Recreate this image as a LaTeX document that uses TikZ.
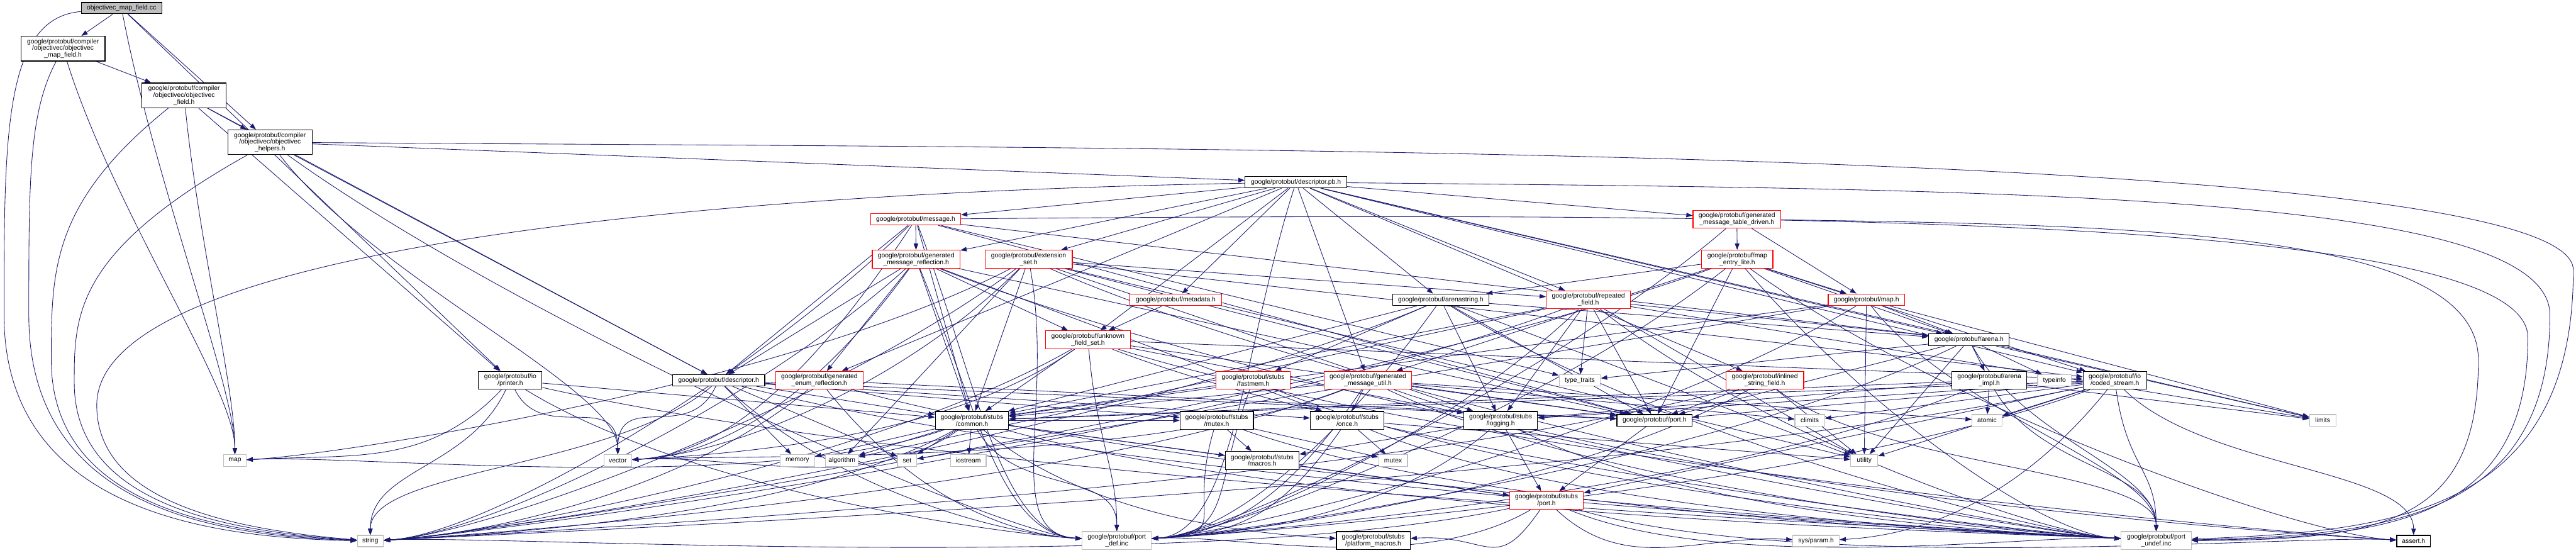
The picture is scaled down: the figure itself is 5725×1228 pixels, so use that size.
\documentclass[tikz,border=0pt]{standalone}
\usepackage{fontspec}
\setmainfont{Liberation Sans}
\usetikzlibrary{arrows.meta,calc}
\pgfdeclarelayer{bg}
\pgfdeclarelayer{back}
\pgfsetlayers{back,bg,main}
\definecolor{edgec}{HTML}{191970}
\definecolor{sysc}{HTML}{BFBFBF}
\definecolor{curc}{HTML}{BFBFBF}
\tikzset{
  box/.style={draw, line width=1.6pt, fill=white, align=center, inner sep=0pt, font=\fontsize{14.5}{15}\selectfont},
  blk/.style={box, draw=black},
  redb/.style={box, draw=red},
  sysb/.style={box, draw=sysc},
  curb/.style={box, draw=black, fill=curc},
  dep/.style={draw=edgec, line width=1.2pt, -{Triangle[length=14pt,width=10pt]}},
  sz/.style 2 args={minimum width=#1pt, minimum height=#2pt},
  ft/.style={to path={.. controls ($(\tikztostart)!0.3!(\tikztotarget)+(0,90)$) and ($(\tikztotarget)+(0,-160)$) .. (\tikztotarget)}},
  fr/.style={to path={.. controls ($(\tikztostart)!0.3!(\tikztotarget)+(0,140)$) and ($(\tikztotarget)+(260,-15)$) .. (\tikztotarget)}},
  fl/.style={to path={.. controls ($(\tikztostart)!0.3!(\tikztotarget)+(0,140)$) and ($(\tikztotarget)+(-260,-15)$) .. (\tikztotarget)}},
}
\begin{document}
\begin{tikzpicture}[x=1pt,y=-1pt]
\begin{pgfonlayer}{back}
\fill[white] (0,0) rectangle (5725,1228);
\end{pgfonlayer}
\useasboundingbox (0,0) rectangle (5725,1228);
% nodes
\node[curb,sz={179}{25}] (cc) at (270,18) {objectivec\_map\_field.cc};
\node[blk,sz={187}{55}] (mfh) at (140,108) {google/protobuf/compiler\\/objectivec/objectivec\\\_map\_field.h};
\node[blk,sz={188}{55}] (fh) at (409,212) {google/protobuf/compiler\\/objectivec/objectivec\\\_field.h};
\node[blk,sz={187}{55}] (hh) at (600,316) {google/protobuf/compiler\\/objectivec/objectivec\\\_helpers.h};
\node[blk,sz={226}{25}] (dpb) at (2880,405) {google/protobuf/descriptor.pb.h};
\node[redb,sz={200}{26}] (msg) at (2035,487) {google/protobuf/message.h};
\node[redb,sz={195}{40}] (gmr) at (2036,576) {google/protobuf/generated\\\_message\_reflection.h};
\node[redb,sz={194}{40}] (ext) at (2286,576) {google/protobuf/extension\\\_set.h};
\node[redb,sz={195}{40}] (gmtd) at (3860,487) {google/protobuf/generated\\\_message\_table\_driven.h};
\node[redb,sz={158}{40}] (mel) at (3861,576) {google/protobuf/map\\\_entry\_lite.h};
\node[blk,sz={141}{40}] (prn) at (1134,845) {google/protobuf/io\\/printer.h};
\node[blk,sz={205}{25}] (desc) at (1597,845) {google/protobuf/descriptor.h};
\node[redb,sz={194}{40}] (ger) at (1821,845) {google/protobuf/generated\\\_enum\_reflection.h};
\node[sysb,sz={62}{26}] (vec) at (1373,1023) {vector};
\node[sysb,sz={77}{26}] (mem) at (1772,1023) {memory};
\node[sysb,sz={73}{26}] (alg) at (1871,1023) {algorithm};
\node[sysb,sz={50}{26}] (map) at (522,1023) {map};
\node[sysb,sz={58}{25}] (str) at (823,1202) {string};
\node[redb,sz={204}{26}] (meta) at (2613,666) {google/protobuf/metadata.h};
\node[redb,sz={188}{40}] (ufs) at (2418,755) {google/protobuf/unknown\\\_field\_set.h};
\node[redb,sz={164}{40}] (fast) at (2785,845) {google/protobuf/stubs\\/fastmem.h};
\node[blk,sz={163}{40}] (common) at (2160,934) {google/protobuf/stubs\\/common.h};
\node[blk,sz={163}{40}] (mtxh) at (2704,934) {google/protobuf/stubs\\/mutex.h};
\node[sysb,sz={43}{26}] (set) at (2016,1023) {set};
\node[sysb,sz={79}{26}] (ios) at (2152,1023) {iostream};
\node[blk,sz={164}{40}] (mac) at (2805,1023) {google/protobuf/stubs\\/macros.h};
\node[sysb,sz={154}{40}] (pdef) at (2482,1201) {google/protobuf/port\\\_def.inc};
\node[blk,sz={214}{26}] (astr) at (3202,666) {google/protobuf/arenastring.h};
\node[redb,sz={187}{40}] (rep) at (3530,666) {google/protobuf/repeated\\\_field.h};
\node[redb,sz={195}{40}] (gmu) at (3040,845) {google/protobuf/generated\\\_message\_util.h};
\node[sysb,sz={92}{25}] (tt) at (3511,845) {type\_traits};
\node[blk,sz={164}{40}] (once) at (2994,934) {google/protobuf/stubs\\/once.h};
\node[blk,sz={164}{40}] (log) at (3335,934) {google/protobuf/stubs\\/logging.h};
\node[blk,sz={167}{26}] (port) at (3677,934) {google/protobuf/port.h};
\node[sysb,sz={64}{26}] (mtx) at (3096,1023) {mutex};
\node[redb,sz={164}{40}] (sport) at (3437,1112) {google/protobuf/stubs\\/port.h};
\node[blk,sz={164}{40}] (pmac) at (3052,1201) {google/protobuf/stubs\\/platform\_macros.h};
\node[redb,sz={170}{26}] (maph) at (4148,666) {google/protobuf/map.h};
\node[blk,sz={179}{26}] (arena) at (4376,755) {google/protobuf/arena.h};
\node[redb,sz={173}{40}] (isf) at (3922,845) {google/protobuf/inlined\\\_string\_field.h};
\node[blk,sz={167}{40}] (aimpl) at (4421,845) {google/protobuf/arena\\\_impl.h};
\node[sysb,sz={75}{25}] (tinfo) at (4566,845) {typeinfo};
\node[blk,sz={141}{40}] (cs) at (4700,845) {google/protobuf/io\\/coded\_stream.h};
\node[sysb,sz={66}{26}] (clim) at (4022,934) {climits};
\node[sysb,sz={66}{26}] (atom) at (4416,934) {atomic};
\node[sysb,sz={60}{26}] (util) at (4143,1023) {utility};
\node[sysb,sz={103}{25}] (sysp) at (4036,1202) {sys/param.h};
\node[sysb,sz={156}{40}] (pund) at (4792,1201) {google/protobuf/port\\\_undef.inc};
\node[sysb,sz={59}{26}] (lim) at (5162,934) {limits};
\node[blk,sz={75}{25}] (assert) at (5364,1202) {assert.h};
% edges
\begin{pgfonlayer}{bg}
% long routed edges
\draw[dep] (cc) .. controls (9,40) and (9,300) .. (9,700) .. controls (9,1150) and (500,1195) .. (str);
\draw[dep] (mfh) .. controls (64,250) and (64,400) .. (64,700) .. controls (64,1140) and (500,1190) .. (str);
\draw[dep] (fh) .. controls (114,450) and (114,600) .. (114,800) .. controls (114,1130) and (500,1185) .. (str);
\draw[dep] (hh) .. controls (165,560) and (165,700) .. (165,850) .. controls (165,1120) and (500,1180) .. (str);
\draw[dep] (dpb) .. controls (1500,430) and (215,560) .. (215,900) .. controls (215,1110) and (500,1175) .. (str);
\draw[dep] (hh) .. controls (2500,330) and (5719,320) .. (5719,600) .. controls (5719,1150) and (5300,1180) .. (pund);
\draw[dep] (dpb) .. controls (4500,420) and (5667,430) .. (5667,700) .. controls (5667,1150) and (5300,1190) .. (pund);
\draw[dep] (msg) .. controls (4000,470) and (5618,480) .. (5618,750) .. controls (5618,1160) and (5300,1195) .. (pund);
\draw[dep] (gmtd) .. controls (4800,500) and (5508,520) .. (5508,800) .. controls (5508,1160) and (5300,1200) .. (pund);
% string
\foreach \s in {prn,desc} \draw[dep] (\s) to[ft] (str);
\foreach \s in {msg,gmr,ext,mel,astr,rep,ufs,ger,gmu,isf,cs,common,sport} \draw[dep] (\s) to[fr] (str);
% map
\foreach \s in {cc,mfh,fh} \draw[dep] (\s) to[ft] (map);
\foreach \s in {prn,ext,common} \draw[dep] (\s) to[fr] (map);
% vector
\foreach \s in {hh,prn,desc} \draw[dep] (\s) to[ft] (vec);
\foreach \s in {msg,gmr,ext,ufs,gmu,common} \draw[dep] (\s) to[fr] (vec);
% port_def
\foreach \s in {hh,prn,desc,ger,msg,gmr,ext} \draw[dep] (\s) to[fl] (pdef);
\foreach \s in {common,ufs} \draw[dep] (\s) to[ft] (pdef);
\foreach \s in {dpb,astr,rep,gmtd,mel,maph,arena,gmu,isf,aimpl,cs,mtxh,once,log,sport,fast} \draw[dep] (\s) to[fr] (pdef);
% port_undef
\foreach \s in {arena,aimpl,cs,maph,isf} \draw[dep] (\s) to[ft] (pund);
\foreach \s in {gmr,ext,mel,astr,rep,ufs,prn,desc,ger,fast,gmu,common,mtxh,once,log,sport} \draw[dep] (\s) to[fl] (pund);
% assert, sys/param, platform_macros
\foreach \s in {mel,ufs,gmu,sport} \draw[dep] (\s) to[fl] (assert);
\draw[dep] (cs) to[ft] (assert);
\draw[dep] (sport) to[fl] (sysp);
\draw[dep] (cs) to[fr] (sysp);
\draw[dep] (common) to[fl] (pmac);
\draw[dep] (sport) to[fr] (pmac);
% remaining direct edges
\foreach \t in {mfh,hh,prn} \draw[dep] (cc) -- (\t);
\draw[dep] (mfh) -- (fh);
\foreach \t in {hh,desc,prn} \draw[dep] (fh) -- (\t);
\foreach \t in {desc,dpb} \draw[dep] (hh) -- (\t);
\foreach \t in {lim,cs,arena,astr,gmtd,gmu,isf,meta,gmr,msg,rep,ext,ger,ufs} \draw[dep] (dpb) -- (\t);
\foreach \t in {tt,arena,desc,gmr,port,common} \draw[dep] (msg) -- (\t);
\foreach \t in {common,desc,ger,once,port,ufs} \draw[dep] (gmr) -- (\t);
\foreach \t in {alg,util,common,log,cs,port,rep} \draw[dep] (ext) -- (\t);
\foreach \t in {maph,mel} \draw[dep] (gmtd) -- (\t);
\foreach \t in {cs,arena,astr,gmu,maph,port} \draw[dep] (mel) -- (\t);
\draw[dep] (meta) -- (ufs);
\foreach \t in {util,log,common,fast,arena,port} \draw[dep] (astr) -- (\t);
\foreach \t in {util,alg,lim,tt,log,common,arena,port} \draw[dep] (rep) -- (\t);
\foreach \t in {lim,set,util,common,arena} \draw[dep] (maph) -- (\t);
\foreach \t in {common,log,cs,port} \draw[dep] (ufs) -- (\t);
\foreach \t in {lim,tt,util,tinfo,aimpl,port} \draw[dep] (arena) -- (\t);
\draw[dep] (prn) -- (common);
\foreach \t in {mem,set,common,mtxh,once,port} \draw[dep] (desc) -- (\t);
\draw[dep] (ger) -- (port);
\draw[dep] (fast) -- (common);
\foreach \t in {atom,clim,common,once,port} \draw[dep] (gmu) -- (\t);
\foreach \t in {util,port} \draw[dep] (isf) -- (\t);
\foreach \t in {atom,lim,common,log} \draw[dep] (aimpl) -- (\t);
\foreach \t in {atom,clim,util,common,log,port,sport} \draw[dep] (cs) -- (\t);
\foreach \t in {alg,ios,mem,set,mac,sport,mtxh} \draw[dep] (common) -- (\t);
\foreach \t in {mtx,mac} \draw[dep] (mtxh) -- (\t);
\foreach \t in {mtx,util} \draw[dep] (once) -- (\t);
\foreach \t in {mac,sport} \draw[dep] (log) -- (\t);
\draw[dep] (port) -- (sport);
\draw[dep] (mac) -- (sport);
\end{pgfonlayer}
\end{tikzpicture}
\end{document}
